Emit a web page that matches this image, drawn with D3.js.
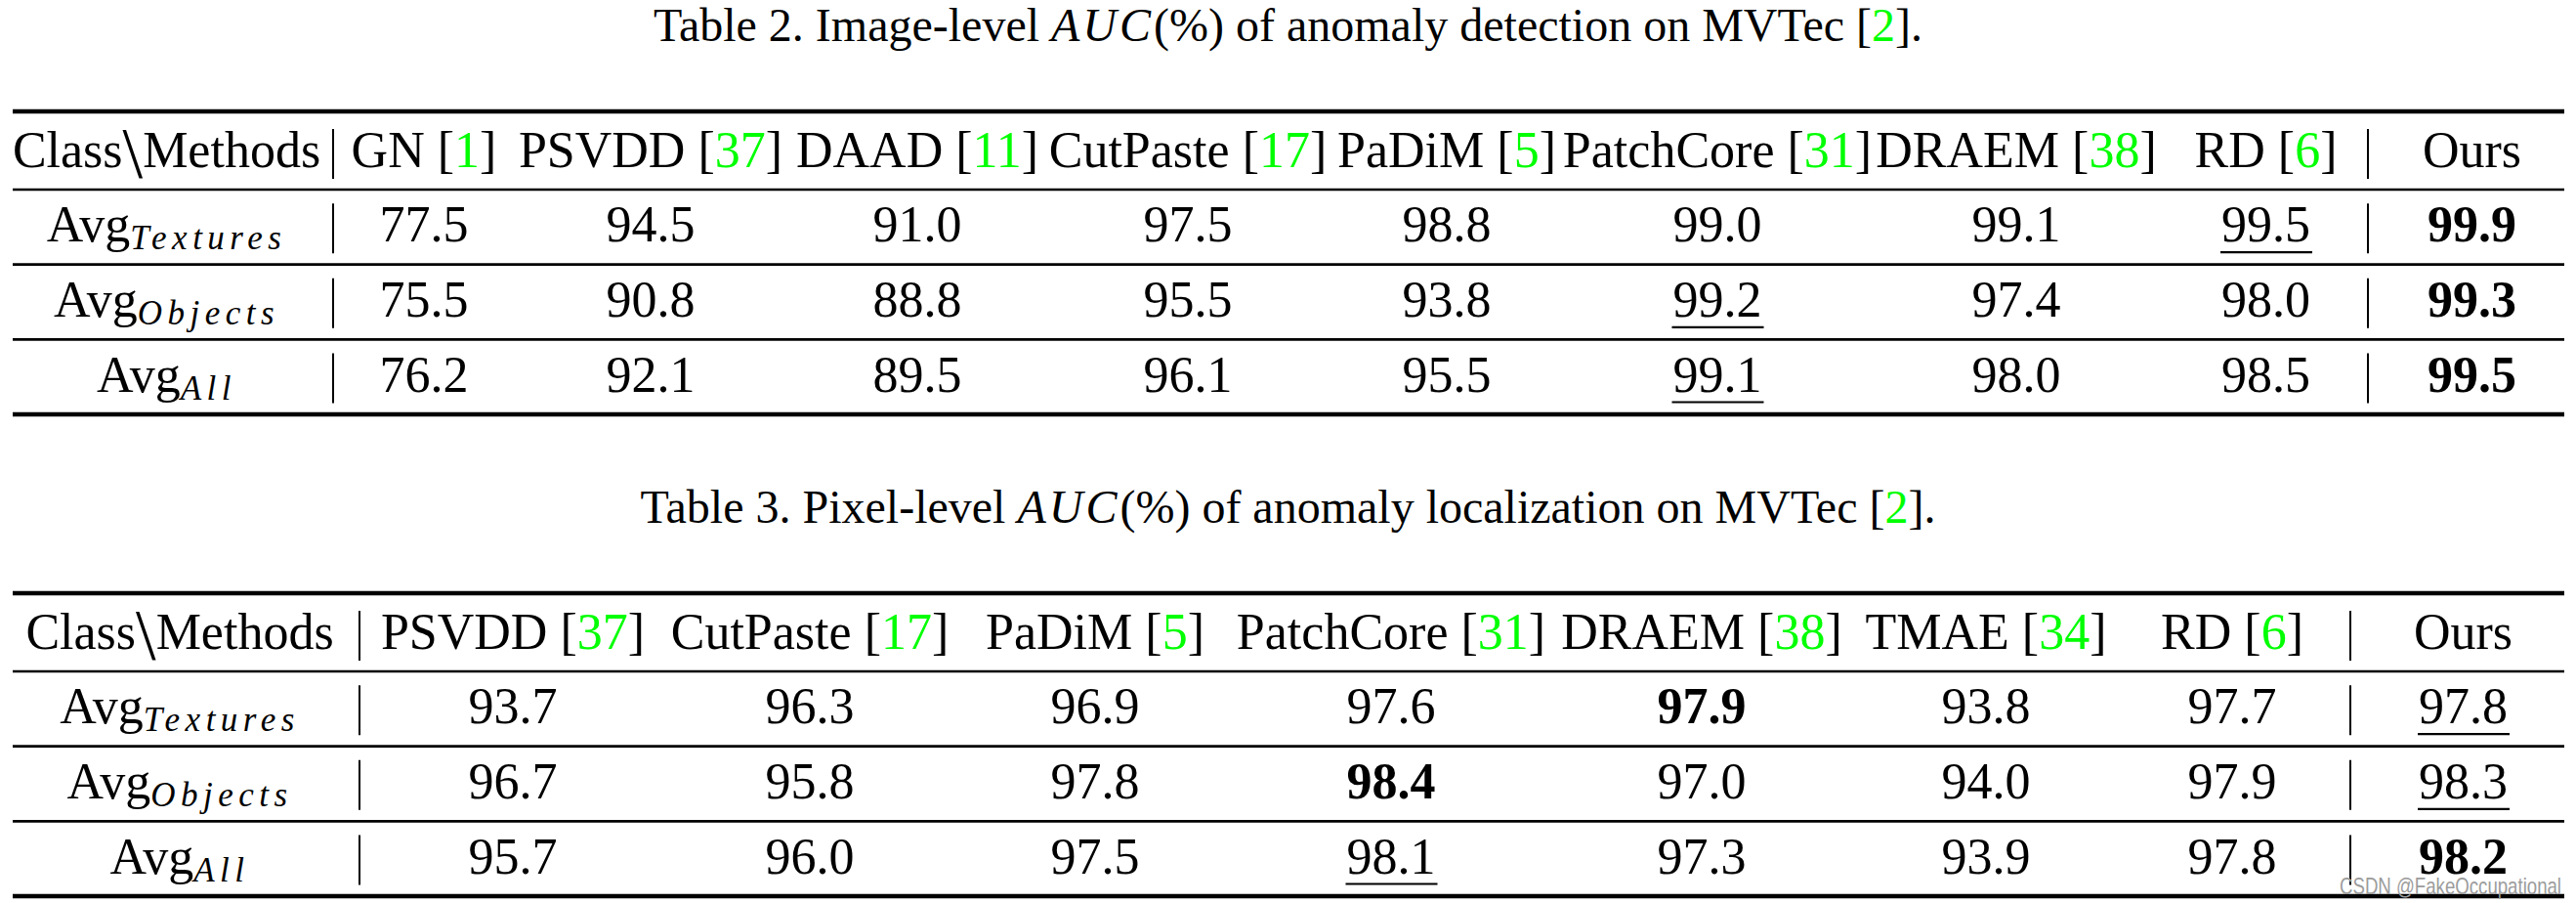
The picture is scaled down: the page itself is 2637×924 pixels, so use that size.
<!DOCTYPE html>
<html><head><meta charset="utf-8">
<script src="https://cdn.jsdelivr.net/npm/d3@7"></script>
<style>
html,body{margin:0;padding:0;background:#fff;}
svg{display:block;}
</style></head><body>
<script>
// ---------------- data ----------------
const rowSubs = ["Textures", "Objects", "All"];

// Table 2: image-level AUC (%)
const methods2 = ["GN", "PSVDD", "DAAD", "CutPaste", "PaDiM", "PatchCore", "DRAEM", "RD", "Ours"];
const refs2    = ["1", "37", "11", "17", "5", "31", "38", "6", ""];
const img_textures = [77.5, 94.5, 91.0, 97.5, 98.8, 99.0, 99.1, 99.5, 99.9];
const img_objects  = [75.5, 90.8, 88.8, 95.5, 93.8, 99.2, 97.4, 98.0, 99.3];
const img_all      = [76.2, 92.1, 89.5, 96.1, 95.5, 99.1, 98.0, 98.5, 99.5];
const img_bold      = ["Ours", "Ours", "Ours"];          // bold method per row
const img_underline = ["RD", "PatchCore", "PatchCore"];  // underlined method per row

// Table 3: pixel-level AUC (%)
const methods3 = ["PSVDD", "CutPaste", "PaDiM", "PatchCore", "DRAEM", "TMAE", "RD", "Ours"];
const refs3    = ["37", "17", "5", "31", "38", "34", "6", ""];
const pix_textures = [93.7, 96.3, 96.9, 97.6, 97.9, 93.8, 97.7, 97.8];
const pix_objects  = [96.7, 95.8, 97.8, 98.4, 97.0, 94.0, 97.9, 98.3];
const pix_all      = [95.7, 96.0, 97.5, 98.1, 97.3, 93.9, 97.8, 98.2];
const pix_bold      = ["DRAEM", "PatchCore", "Ours"];
const pix_underline = ["Ours", "Ours", "PatchCore"];

const caption2 = ["Table 2. Image-level ", "AUC", "(%)", " of anomaly detection on MVTec [", "2", "]."];
const caption3 = ["Table 3. Pixel-level ", "AUC", "(%)", " of anomaly localization on MVTec [", "2", "]."];
const watermark = "CSDN @FakeOccupational";

// ---------------- layout / style ----------------
const W = 2637, H = 924;
const SERIF = "'Liberation Serif','Times New Roman',Times,serif";
const SANS = "'Liberation Sans',Arial,sans-serif";
const GREEN = "#00ff00";
const CELL_FS = 52, CAP_FS = 48, SUB_FS = 35;
const colWidths2 = [341, 186, 278, 268, 286, 244, 310, 302, 209, 213];
const colWidths3 = [368, 314, 294, 290, 316, 320, 262, 242, 231];

const svg = d3.select("body").append("svg")
  .attr("width", W).attr("height", H)
  .attr("viewBox", `0 0 ${W} ${H}`);
svg.append("rect").attr("width", W).attr("height", H).attr("fill", "#fff");

const fmt = d3.format(".1f");

function drawTable(cfg) {
  const g = svg.append("g").attr("transform", `translate(0,${cfg.top})`);
  const edges = [0, ...d3.cumsum(cfg.widths)];
  const x = d3.scaleLinear().domain([0, d3.sum(cfg.widths)]).range([0, W]);
  const center = i => x((edges[i] + edges[i + 1]) / 2);
  const nCols = cfg.widths.length;

  // rule positions: top, header bottom, row bottoms
  const ruleY = d3.scaleLinear().domain([0, 3]).range([80, 310]);
  const rules = [0, ruleY(0), ruleY(1), ruleY(2), ruleY(3)];
  const headBase = 57;
  const rowBase = r => ruleY(r + 1) - 23.5;

  // caption
  const cap = g.append("text")
    .attr("x", W / 2).attr("y", -72)
    .attr("text-anchor", "middle")
    .attr("font-family", SERIF).attr("font-size", CAP_FS).attr("fill", "#000");
  cfg.caption.forEach((t, i) => {
    const ts = cap.append("tspan").text(t);
    if (i === 1) ts.attr("font-style", "italic").attr("letter-spacing", 3);
    if (i === 4) ts.attr("fill", GREEN);
  });

  // horizontal rules
  const ruleL = 13, ruleR = W - 12;
  g.selectAll("line.rule").data(rules).join("line")
    .attr("class", "rule")
    .attr("x1", ruleL).attr("x2", ruleR)
    .attr("y1", d => d).attr("y2", d => d)
    .attr("stroke", "#000")
    .attr("stroke-width", (d, i) => (i === 0 || i === rules.length - 1) ? 4.4 : 2.6);

  // header
  const h0 = g.append("text")
    .attr("x", center(0)).attr("y", headBase)
    .attr("text-anchor", "middle")
    .attr("font-family", SERIF).attr("font-size", CELL_FS);
  h0.append("tspan").text("Class");
  h0.append("tspan").text("\\").attr("font-size", 74).attr("dy", 11);
  h0.append("tspan").text("Methods").attr("dy", -11);

  cfg.methods.forEach((m, j) => {
    const t = g.append("text")
      .attr("x", center(j + 1)).attr("y", headBase)
      .attr("text-anchor", "middle")
      .attr("font-family", SERIF).attr("font-size", CELL_FS);
    t.append("tspan").text(m);
    if (cfg.refs[j]) {
      t.append("tspan").text(" [");
      t.append("tspan").text(cfg.refs[j]).attr("fill", GREEN);
      t.append("tspan").text("]");
    }
  });

  // data rows
  cfg.rows.forEach((vals, r) => {
    const yb = rowBase(r);
    const lab = g.append("text")
      .attr("x", center(0)).attr("y", yb)
      .attr("text-anchor", "middle")
      .attr("font-family", SERIF).attr("font-size", CELL_FS);
    lab.append("tspan").text("Avg");
    lab.append("tspan").text(rowSubs[r])
      .attr("font-style", "italic").attr("font-size", SUB_FS)
      .attr("letter-spacing", 5.5).attr("dy", 8);

    vals.forEach((v, j) => {
      const m = cfg.methods[j];
      const t = g.append("text")
        .attr("x", center(j + 1)).attr("y", yb)
        .attr("text-anchor", "middle")
        .attr("font-family", SERIF).attr("font-size", CELL_FS)
        .attr("font-weight", cfg.bold[r] === m ? "bold" : "normal")
        .text(fmt(v));
      if (cfg.underline[r] === m) {
        const bb = t.node().getBBox();
        g.append("line")
          .attr("x1", bb.x - 1).attr("x2", bb.x + bb.width + 2)
          .attr("y1", yb + 11).attr("y2", yb + 11)
          .attr("stroke", "#000").attr("stroke-width", 2.2);
      }
    });
  });

  // vertical separators ("|")
  const sepX = [x(edges[1]), x(edges[nCols - 1])];
  const bases = [headBase, rowBase(0), rowBase(1), rowBase(2)];
  bases.forEach(b => {
    sepX.forEach(sx => {
      g.append("line")
        .attr("x1", sx).attr("x2", sx)
        .attr("y1", b - 39).attr("y2", b + 12)
        .attr("stroke", "#000").attr("stroke-width", 2);
    });
  });
}

drawTable({
  top: 114, widths: colWidths2, caption: caption2,
  methods: methods2, refs: refs2,
  rows: [img_textures, img_objects, img_all],
  bold: img_bold, underline: img_underline
});
drawTable({
  top: 607, widths: colWidths3, caption: caption3,
  methods: methods3, refs: refs3,
  rows: [pix_textures, pix_objects, pix_all],
  bold: pix_bold, underline: pix_underline
});

// watermark
svg.append("text")
  .attr("x", 2395).attr("y", 915)
  .attr("font-family", SANS).attr("font-size", 24)
  .attr("fill", "#9c9c9c")
  .attr("textLength", 227).attr("lengthAdjust", "spacingAndGlyphs")
  .text(watermark);
</script>
</body></html>
